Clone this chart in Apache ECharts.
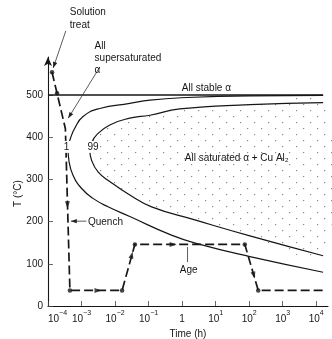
<!DOCTYPE html>
<html><head><meta charset="utf-8">
<script src="https://cdn.jsdelivr.net/npm/echarts@6/dist/echarts.min.js"></script>
<style>html,body{margin:0;padding:0;background:#fff}#c{width:332px;height:339px}</style>
</head><body><div id="c"></div>
<script>
// ---- data (time in hours, temperature in °C) ----
const xTickValues = [1e-4, 1e-3, 1e-2, 1e-1, 1, 10, 100, 1000, 10000];
const xTickLabels = ['10^-4', '10^-3', '10^-2', '10^-1', '1', '10^1', '10^2', '10^3', '10^4'];
const yTickValues = [0, 100, 200, 300, 400, 500];

const stableLine = [[1e-4, 500], [16000, 500]];
const curve1 = [[16000, 499], [105, 498], [1.38, 494], [0.11, 488], [0.0275, 480], [0.00349, 468],
  [0.00111, 449], [0.000627, 421], [0.000467, 397], [0.000396, 374], [0.000424, 342], [0.000557, 310],
  [0.000993, 279], [0.0022, 255], [0.00618, 235], [0.0275, 212], [0.48, 168], [3.4, 146], [105, 117], [16000, 80]];
const curve99 = [[16000, 482], [105, 477], [0.85, 467], [0.11, 452], [0.0275, 445], [0.00695, 429],
  [0.00279, 405], [0.00198, 386], [0.00176, 370], [0.00198, 346], [0.00311, 318], [0.00695, 295],
  [0.0275, 263], [0.123, 235], [2.4, 204], [105, 166], [16000, 119]];
const treatPath = [[1.32e-4, 554], [1.86e-4, 504], [3.3e-4, 420], [4.5e-4, 37], [0.0162, 37],
  [0.039, 146], [74, 146], [186, 37], [16000, 37]];
const treatDots = [[1.32e-4, 554], [1.86e-4, 504], [4.5e-4, 37], [0.0162, 37], [0.039, 146], [74, 146], [186, 37]];
const flowArrows = [[3.8e-4, 240], [0.0031, 37], [0.0316, 121], [0.54, 146], [138, 73]];
const flowArrowAngles = [180, -90, -15, -90, 196];

const annoTexts = [
  ['Solution\ntreat', [4.45e-4, 711]],
  ['All\nsupersaturated\nα', [2.45e-3, 630]],
  ['All stable α', [0.98, 517]],
  ['1', [3.6e-4, 377]],
  ['99', [2.2e-3, 377]],
  ['All saturated α + Cu Al₂', [1.2, 351]],
  ['Quench', [1.55e-3, 199]],
  ['Age', [0.85, 85]]
];
const pointers = [
  [[3.4e-4, 652], [1.43e-4, 564]],
  [[3.5e-3, 566], [4.0e-4, 445]],
  [[1.4e-3, 201], [4.8e-4, 201]],
  [[1.45, 104], [1.45, 140]]
];
const pointerHeads = [true, true, true, false];

// ---- styling ----
const FONT = '"Liberation Sans", Arial, sans-serif';
const INK = '#161616';

const pc = document.createElement('canvas');
pc.width = 14; pc.height = 12;
const pctx = pc.getContext('2d');
pctx.fillStyle = '#8a8a8a';
pctx.fillRect(2, 2, 1.2, 1.2);
pctx.fillRect(9, 8, 1.2, 1.2);
const stipple = { image: pc, repeat: 'repeat' };

function fmtX(v) {
  const i = xTickValues.findIndex(t => Math.abs(Math.log10(t) - Math.log10(v)) < 1e-6);
  if (i < 0) return '';
  const parts = xTickLabels[i].split('^');
  if (parts.length < 2) return '{b|' + parts[0] + '}';
  return '{b|' + parts[0] + '}{s|' + parts[1].replace('-', '−') + '}';
}

const chart = echarts.init(document.getElementById('c'), null, { renderer: 'canvas' });
chart.setOption({
  animation: false,
  backgroundColor: '#fff',
  textStyle: { fontFamily: FONT, color: INK },
  grid: { left: 48, right: 4, top: 57, bottom: 33, outerBoundsMode: 'none', containLabel: false },
  xAxis: {
    type: 'log', logBase: 10, min: 1e-4, max: 22400,
    name: 'Time (h)', nameLocation: 'middle', nameGap: 23, nameMoveOverlap: false,
    nameTextStyle: { fontSize: 10, color: INK, fontFamily: FONT },
    axisLine: { show: true, onZero: false, lineStyle: { color: INK, width: 1.1 } },
    axisTick: { show: true, inside: true, length: 5, customValues: xTickValues, lineStyle: { color: '#444', width: 0.8 } },
    axisLabel: {
      customValues: xTickValues, formatter: fmtX, margin: 4, alignMinLabel: 'left',
      rich: {
        b: { fontSize: 10, fontFamily: FONT, color: INK, verticalAlign: 'bottom', lineHeight: 14 },
        s: { fontSize: 7, fontFamily: FONT, color: INK, verticalAlign: 'top', lineHeight: 14 }
      }
    },
    splitLine: { show: false }, minorTick: { show: false }
  },
  yAxis: {
    type: 'value', min: 0, max: 590,
    name: 'T (°C)', nameLocation: 'middle', nameGap: 25, nameRotate: 90, nameMoveOverlap: false,
    nameTextStyle: { fontSize: 10, color: INK, fontFamily: FONT, padding: [0, 24, 0, 0] },
    axisLine: { show: true, lineStyle: { color: INK, width: 1.1 }, symbol: ['none', 'arrow'], symbolSize: [6, 9] },
    axisTick: { show: true, inside: true, length: 5, customValues: yTickValues, lineStyle: { color: '#444', width: 0.8 } },
    axisLabel: { customValues: yTickValues, fontSize: 10, color: INK, margin: 5, fontFamily: FONT },
    splitLine: { show: false }
  },
  series: [
    {
      type: 'custom', z: 1, silent: true,
      data: [curve99[0]],
      renderItem: function (params, api) {
        const pts = curve99.map(p => api.coord(p));
        return { type: 'polygon', shape: { points: pts, smooth: 0.3 }, style: { fill: stipple, stroke: null } };
      }
    },
    { type: 'line', data: stableLine, showSymbol: false, z: 3, lineStyle: { color: INK, width: 1.5 } },
    { type: 'line', data: curve1, smooth: 0.5, showSymbol: false, z: 3, lineStyle: { color: INK, width: 1.2 } },
    { type: 'line', data: curve99, smooth: 0.5, showSymbol: false, z: 3, lineStyle: { color: INK, width: 1.2 } },
    { type: 'line', data: treatPath, showSymbol: false, z: 4, lineStyle: { color: INK, width: 1.7, type: [9, 4] } },
    { type: 'scatter', data: treatDots, symbol: 'circle', symbolSize: 4.5, z: 5, itemStyle: { color: INK } },
    {
      type: 'scatter', z: 5, symbol: 'triangle', symbolSize: [5, 7],
      data: flowArrows.map((p, i) => ({ value: p, symbolRotate: flowArrowAngles[i] })),
      itemStyle: { color: INK }
    }
  ]
});

// ---- annotations placed from data coordinates ----
const P = p => chart.convertToPixel({ gridIndex: 0 }, p);
const textStyles = [
  { verticalAlign: 'top', lineHeight: 13 },
  { verticalAlign: 'top', lineHeight: 12 },
  { verticalAlign: 'middle' },
  { verticalAlign: 'middle', align: 'center', backgroundColor: '#fff', padding: [1, 1, 1, 1] },
  { verticalAlign: 'middle', align: 'center', backgroundColor: '#fff', padding: [1, 1, 1, 1] },
  { verticalAlign: 'middle' },
  { verticalAlign: 'middle' },
  { verticalAlign: 'middle' }
];
const els = [];
function head(a, b, len, half) {
  const dx = b[0] - a[0], dy = b[1] - a[1], L = Math.hypot(dx, dy);
  const ux = dx / L, uy = dy / L, bx = b[0] - ux * len, by = b[1] - uy * len;
  return [[b[0], b[1]], [bx - uy * half, by + ux * half], [bx + uy * half, by - ux * half]];
}
pointers.forEach((seg, i) => {
  const a = P(seg[0]), b = P(seg[1]);
  els.push({ type: 'line', z: 10, shape: { x1: a[0], y1: a[1], x2: b[0], y2: b[1] }, style: { stroke: '#333', lineWidth: 0.8 } });
  if (pointerHeads[i]) els.push({ type: 'polygon', z: 10, shape: { points: head(a, b, 6, 2.2) }, style: { fill: '#222' } });
});
annoTexts.forEach((t, i) => {
  const p = P(t[1]);
  els.push({
    type: 'text', z: 12, x: p[0], y: p[1],
    style: Object.assign({ text: t[0], fontSize: 10, fontFamily: FONT, fill: INK, align: 'left' }, textStyles[i])
  });
});
chart.setOption({ graphic: { elements: els } });
</script></body></html>
